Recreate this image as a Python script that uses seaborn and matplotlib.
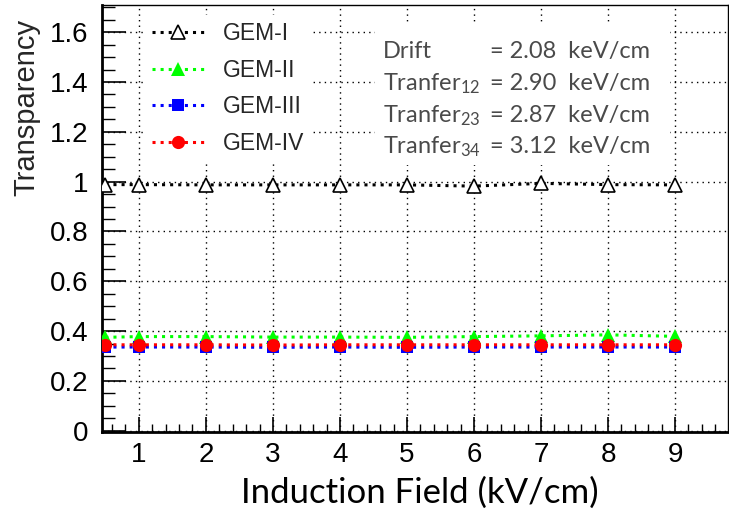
import numpy as np
import pandas as pd
import matplotlib
matplotlib.use("Agg")
import matplotlib.pyplot as plt
import seaborn as sns
from matplotlib.lines import Line2D
from matplotlib.ticker import MultipleLocator

field = [0.5, 1, 2, 3, 4, 5, 6, 7, 8, 9]
gem1 = [0.988, 0.988, 0.987, 0.987, 0.987, 0.987, 0.982, 0.993, 0.988, 0.987]
gem2 = [0.375, 0.378, 0.378, 0.376, 0.376, 0.375, 0.378, 0.381, 0.385, 0.379]
gem3 = [0.336, 0.336, 0.336, 0.335, 0.336, 0.335, 0.336, 0.336, 0.336, 0.336]
gem4 = [0.345, 0.345, 0.345, 0.344, 0.345, 0.345, 0.345, 0.345, 0.345, 0.345]
names = ["GEM-I", "GEM-II", "GEM-III", "GEM-IV"]
info_labels = ["Drift", "Tranfer$_{12}$", "Tranfer$_{23}$", "Tranfer$_{34}$"]
info_values = ["= 2.08  keV/cm", "= 2.90  keV/cm", "= 2.87  keV/cm", "= 3.12  keV/cm"]

df = pd.DataFrame({
    "field": field * 4,
    "transparency": gem1 + gem2 + gem3 + gem4,
    "detector": sum([[n] * len(field) for n in names], []),
})

sns.set_style("white")
plt.rcParams['font.family'] = ['Liberation Sans', 'DejaVu Sans']
plt.rcParams['mathtext.fontset'] = 'custom'
plt.rcParams['mathtext.rm'] = 'Lato'
plt.rcParams['mathtext.it'] = 'Lato'
plt.rcParams['mathtext.default'] = 'regular'

fig = plt.figure(figsize=(7.29, 5.18), dpi=100)
ax = fig.add_axes([102/729, 1-432/518, 626/729, 427/518])

styles = {
    "GEM-I": dict(color="black", marker="^", mfc="white", mec="black", ms=10, mew=1.2),
    "GEM-II": dict(color="#00ff00", marker="^", mfc="#00ff00", mec="#00ff00", ms=10, mew=0),
    "GEM-III": dict(color="#0000ff", marker="s", mfc="#0000ff", mec="#0000ff", ms=9, mew=0),
    "GEM-IV": dict(color="#ff0000", marker="o", mfc="#ff0000", mec="#ff0000", ms=9.5, mew=0),
}
for n in names:
    sub = df[df["detector"] == n]
    st = styles[n]
    sns.lineplot(data=sub, x="field", y="transparency", ax=ax, color=st["color"],
                 marker=st["marker"], markerfacecolor=st["mfc"], markeredgecolor=st["mec"],
                 markersize=st["ms"], markeredgewidth=st["mew"], linestyle=":", linewidth=2.2,
                 legend=False, zorder=3)

ax.set_xlim(0.45, 9.79)
ax.set_ylim(-0.005, 1.709)
ax.xaxis.set_minor_locator(MultipleLocator(0.2))
ax.yaxis.set_minor_locator(MultipleLocator(0.05))
ax.set_xticks(range(1, 10))
ax.set_xticklabels([str(i) for i in range(1, 10)])
yt = np.round(np.arange(0, 1.61, 0.2), 1)
ax.set_yticks(yt)
ax.set_yticklabels(["0" if v == 0 else ("1" if v == 1 else f"{v:.1f}") for v in yt])
ax.tick_params(axis="both", which="both", bottom=True, left=True, top=False, right=False,
               direction="in", colors="black")
ax.tick_params(axis="y", which="major", length=17, width=1.2, labelsize=20, pad=10)
ax.tick_params(axis="x", which="major", length=11, width=1.2, labelsize=20, pad=7)
ax.tick_params(axis="y", which="minor", length=9, width=1)
ax.tick_params(axis="x", which="minor", length=6, width=1)
ax.grid(True, which="major", color="black", linestyle=(0, (1, 3)), linewidth=1)
for s in ["left", "bottom"]:
    ax.spines[s].set_linewidth(2)
    ax.spines[s].set_color("black")
for s in ["top", "right"]:
    ax.spines[s].set_linewidth(1)
    ax.spines[s].set_color("black")
ax.set_xlabel("")
ax.set_ylabel("")

fig.text(420/729, 1-493/518, "Induction Field (kV/cm)", family=["Lato", "DejaVu Sans"],
         fontsize=25, ha="center", va="center", color="black")
fig.text(26/729, 1-107/518, "Transparency", fontsize=21, rotation=90, ha="center", va="center")

handles = [Line2D([0], [0], color=styles[n]["color"], linestyle=":", linewidth=2.2,
                  marker=styles[n]["marker"], markerfacecolor=styles[n]["mfc"],
                  markeredgecolor=styles[n]["mec"], markersize=styles[n]["ms"],
                  markeredgewidth=styles[n]["mew"]) for n in names]
leg = ax.legend(handles, names, loc="upper left", bbox_to_anchor=(43/626, 1-10/427),
                frameon=True, facecolor="white", edgecolor="white", framealpha=1,
                fontsize=16.5, handlelength=2.3, labelspacing=0.6, borderpad=0.3,
                handletextpad=0.8, borderaxespad=0)
leg.set_zorder(5)

# info box
box_x0, box_y0 = 375/729, 1-165/518
fig.patches.append(plt.Rectangle((box_x0, box_y0), 295/729, 140/518, transform=fig.transFigure,
                                 facecolor="white", edgecolor="none", zorder=6))
baselines = [58, 90, 122, 153]
for lab, val, b in zip(info_labels, info_values, baselines):
    fig.text(383/729, 1-b/518, lab, family=["Lato", "DejaVu Sans"], fontsize=17,
             color="#4a4a4a", ha="left", va="baseline", zorder=7)
    fig.text(650/729, 1-b/518, val, family=["Lato", "DejaVu Sans"], fontsize=17,
             color="#4a4a4a", ha="right", va="baseline", zorder=7)

fig.savefig("out.png", dpi=100)
